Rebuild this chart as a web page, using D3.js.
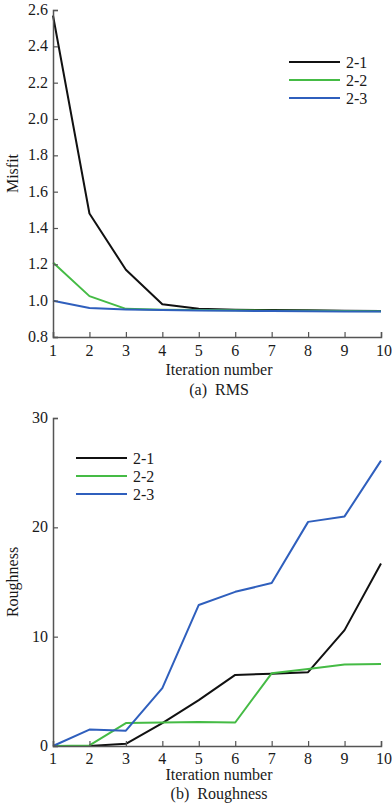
<!DOCTYPE html>
<html>
<head>
<meta charset="utf-8">
<script src="https://cdn.jsdelivr.net/npm/d3@7"></script>
<style>
  body { margin: 0; background: #fff; }
  svg text { font-family: 'Liberation Serif', 'Times New Roman', Times, 'DejaVu Serif', serif; }
</style>
</head>
<body>
<div id="chart"></div>
<script>
// iterations 1..10
var iterations = [1, 2, 3, 4, 5, 6, 7, 8, 9, 10];
var seriesNames = ["2-1", "2-2", "2-3"];
var seriesColors = ["#111111", "#45bb45", "#2f5fbd"];

// (a) RMS misfit
var rms21 = [2.57, 1.48, 1.17, 0.98, 0.955, 0.95, 0.948, 0.947, 0.945, 0.943];
var rms22 = [1.21, 1.025, 0.955, 0.95, 0.948, 0.947, 0.945, 0.944, 0.943, 0.942];
var rms23 = [1.0, 0.96, 0.952, 0.948, 0.946, 0.944, 0.943, 0.942, 0.941, 0.94];

// (b) Roughness
var rough21 = [0, 0, 0.2, 2.1, 4.2, 6.5, 6.6, 6.75, 10.6, 16.7];
var rough22 = [0, 0.05, 2.1, 2.15, 2.2, 2.15, 6.65, 7.05, 7.45, 7.5];
var rough23 = [0, 1.5, 1.4, 5.3, 12.9, 14.1, 14.9, 20.5, 21.0, 26.1];

var rmsTicks = [0.8, 1.0, 1.2, 1.4, 1.6, 1.8, 2.0, 2.2, 2.4, 2.6];
var roughTicks = [0, 10, 20, 30];

var width = 392, height = 807;
var serif = "'Liberation Serif', 'Times New Roman', Times, 'DejaVu Serif', serif";
var svg = d3.select("#chart").append("svg")
    .attr("width", width)
    .attr("height", height);

var x = d3.scaleLinear().domain([1, 10]).range([53, 381]);

function label(g) {
  return g.append("text").attr("font-family", serif).attr("font-size", 16).attr("fill", "#1a1a1a");
}

function panel(opts) {
  var y = d3.scaleLinear().domain(opts.yDomain).range([opts.bottom, opts.top]);
  var g = svg.append("g");

  // lines
  var line = d3.line()
      .x(function(d, i) { return x(iterations[i]); })
      .y(function(d) { return y(d); });

  opts.series.forEach(function(s, i) {
    g.append("path")
        .attr("d", line(s))
        .attr("fill", "none")
        .attr("stroke", seriesColors[i])
        .attr("stroke-width", 2)
        .attr("stroke-linejoin", "round");
  });

  // axes, ticks pointing inward
  var xAxis = g.append("g")
      .attr("transform", "translate(0," + opts.bottom + ")")
      .call(d3.axisTop(x).tickValues(iterations).tickSize(5).tickFormat(""));
  var yAxis = g.append("g")
      .attr("transform", "translate(" + x(1) + ",0)")
      .call(d3.axisRight(y).tickValues(opts.ticks).tickSize(5).tickFormat(""));
  [xAxis, yAxis].forEach(function(a) {
    a.select(".domain").attr("stroke", "#555").attr("stroke-width", 1.5);
    a.selectAll(".tick line").attr("stroke", "#555").attr("stroke-width", 1.2);
  });

  // tick labels
  iterations.forEach(function(d) {
    label(g).attr("x", x(d) + (d === 10 ? 3 : 0))
        .attr("y", opts.bottom + opts.off[0])
        .attr("text-anchor", "middle")
        .text(d);
  });

  opts.ticks.forEach(function(d) {
    label(g).attr("x", 48)
        .attr("y", y(d) + 5)
        .attr("text-anchor", "end")
        .text(opts.fmt(d));
  });

  // axis titles
  label(g).attr("x", (x(1) + x(10)) / 2 + 2)
      .attr("y", opts.bottom + opts.off[1])
      .attr("text-anchor", "middle")
      .text("Iteration number");

  label(g).attr("x", (x(1) + x(10)) / 2 + 2)
      .attr("y", opts.bottom + opts.off[2])
      .attr("text-anchor", "middle")
      .style("white-space", "pre")
      .text(opts.caption);

  label(g).attr("transform", "translate(18," + ((opts.top + opts.bottom) / 2) + ")rotate(-90)")
      .attr("text-anchor", "middle")
      .text(opts.yTitle);

  // legend
  seriesNames.forEach(function(name, i) {
    var ly = opts.legend[1] + i * 18;
    g.append("line")
        .attr("x1", opts.legend[0]).attr("x2", opts.legend[0] + 51)
        .attr("y1", ly).attr("y2", ly)
        .attr("stroke", seriesColors[i])
        .attr("stroke-width", 2);
    label(g).attr("x", opts.legend[0] + 57)
        .attr("y", ly + 6)
        .text(name);
  });
}

panel({
  yDomain: [0.8, 2.6], top: 10, bottom: 337,
  ticks: rmsTicks, fmt: d3.format(".1f"),
  series: [rms21, rms22, rms23],
  yTitle: "Misfit", caption: "(a)  RMS",
  legend: [289, 62], off: [19, 38, 58]
});

panel({
  yDomain: [0, 30], top: 418, bottom: 746,
  ticks: roughTicks, fmt: d3.format("d"),
  series: [rough21, rough22, rough23],
  yTitle: "Roughness", caption: "(b)  Roughness",
  legend: [76, 458], off: [18, 34, 53]
});
</script>
</body>
</html>
